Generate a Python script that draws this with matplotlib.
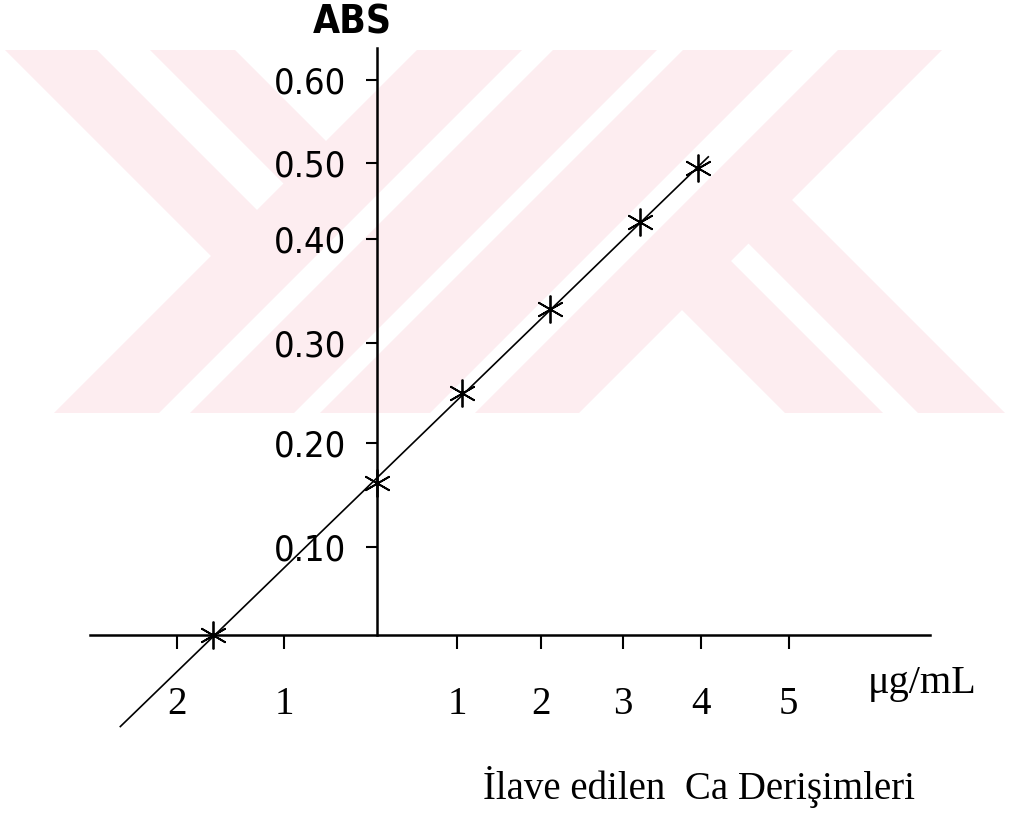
import numpy as np
import matplotlib.pyplot as plt
from matplotlib.patches import Polygon, Rectangle

# standard addition data
conc = [-2.0, 0.0, 1.04, 2.11, 3.21, 3.92]
absorb = [0.0, 0.16, 0.255, 0.343, 0.435, 0.492]

# tick positions as drawn on the original (hand-made scale)
x_tick_pos = [-2.44, -1.13, 0.98, 2.0, 3.0, 3.95, 5.02]
x_tick_labels = ['2', '1', '1', '2', '3', '4', '5']
y_tick_pos = [0.093, 0.202, 0.307, 0.417, 0.497, 0.584]
y_tick_labels = ['0.10', '0.20', '0.30', '0.40', '0.50', '0.60']

W, H = 1025, 817
fig = plt.figure(figsize=(W / 100, H / 100), dpi=100)

# pale watermark stripes behind the chart (pixel coordinates)
bg = fig.add_axes([0, 0, 1, 1], zorder=0)
bg.set_xlim(0, W)
bg.set_ylim(H, 0)
bg.axis('off')
top, bot = 50, 413
pink = '#fdedf0'
span = bot - top
clip = Rectangle((0, top), W, span, transform=bg.transData)

def add_poly(pts):
    p = Polygon(pts, closed=True, fc=pink, ec='none')
    bg.add_patch(p)
    p.set_clip_path(clip)

# "/" stripes running the full height
for a1, a2 in [(417, 522), (553, 657), (683, 793), (838, 942)]:
    add_poly([(a1, top), (a2, top), (a2 - span, bot), (a1 - span, bot)])

# "\" stripes ending on the first "/" stripe
for a1, a2 in [(5, 97), (150, 235)]:
    t1 = (430 - a1) / 2
    t2 = (430 - a2) / 2
    add_poly([(a1, top), (a2, top), (a2 + t2, top + t2), (a1 + t1, top + t1)])

# "\" stripes starting from the last "/" stripe
for a1, a2 in [(422, 520), (555, 642)]:
    t1 = (930 - a1) / 2
    t2 = (930 - a2) / 2
    add_poly([(a1 + t1, top + t1), (a2 + t2, top + t2), (a2 + span, bot), (a1 + span, bot)])

# main axes, spines crossing at the origin
ax = fig.add_axes([90 / W, (H - 740) / H, 910 / W, 700 / H], zorder=1)
ax.patch.set_alpha(0)
ax.set_xlim((90 - 377) / 82, (1000 - 377) / 82)
ax.set_ylim((635 - 740) / 950, (635 - 40) / 950)

for s in ['top', 'right']:
    ax.spines[s].set_visible(False)
ax.spines['left'].set_position(('data', 0))
ax.spines['bottom'].set_position(('data', 0))
ax.spines['left'].set_bounds(0, (635 - 48) / 950)
ax.spines['bottom'].set_bounds((90 - 377) / 82, (930 - 377) / 82)
ax.spines['left'].set_linewidth(1.8)
ax.spines['bottom'].set_linewidth(1.8)

ax.set_xticks(x_tick_pos)
ax.set_xticklabels(x_tick_labels, family='Liberation Serif')
ax.set_yticks(y_tick_pos)
ax.set_yticklabels(y_tick_labels, family='DejaVu Sans', stretch='condensed',
                   weight='light')
ax.tick_params(axis='x', direction='out', length=10, width=1.5, pad=27, labelsize=28)
ax.tick_params(axis='y', direction='out', length=8, width=1.5, pad=14, labelsize=26)

# fitted line, extended to the x intercept and beyond
coef = np.polyfit(conc, absorb, 1)
xs = np.array([-3.13, 4.04])
ax.plot(xs, np.polyval(coef, xs), color='black', lw=1.2, clip_on=False)
ax.plot(conc, absorb, ls='none', marker=(6, 2, 0), ms=20, mec='black', mew=1.3, clip_on=False)

fig.text(352 / W, 1 - 23 / H, 'ABS', ha='center', va='center', fontsize=28,
         fontweight='bold', family='DejaVu Sans', stretch='condensed')
fig.text(868 / W, 1 - 683 / H, 'μg/mL', ha='left', va='center', fontsize=29,
         family='Liberation Serif')
fig.text(483 / W, 1 - 787 / H, 'İlave edilen  Ca Derişimleri', ha='left', va='center',
         fontsize=28, family='Liberation Serif')

fig.savefig('out.png', dpi=100)
